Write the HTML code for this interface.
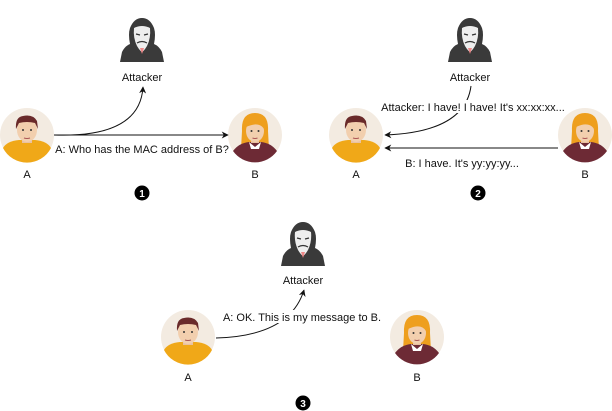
<!DOCTYPE html>
<html><head><meta charset="utf-8"><style>
html,body{margin:0;padding:0;background:#fff;width:612px;height:411px;overflow:hidden}
text{font-family:"Liberation Sans",sans-serif;font-size:11px;fill:#111}
</style></head><body>
<svg width="612" height="411" viewBox="0 0 612 411" xmlns="http://www.w3.org/2000/svg">
<defs>
<marker id="ar" viewBox="0 0 10 10" refX="9" refY="5" markerWidth="7" markerHeight="7" orient="auto-start-reverse" markerUnits="userSpaceOnUse"><path d="M0,0 L10,5 L0,10 L3,5 z" fill="#111"/></marker>
<g id="hk">
<path d="M-22,22 L-20,12 Q-17,6 -12,4 Q-14,-6 -12,-12 Q-8,-22 0,-22 Q8,-22 12,-12 Q14,-6 12,4 Q17,6 20,12 L22,22 z" fill="#3a3a3a"/>
<path d="M-8,-12 Q0,-16 8,-12 Q9,-2 5,6 Q2,11 0,12 Q-2,11 -5,6 Q-9,-2 -8,-12 z" fill="#eee"/>
<path d="M-6,-6 L-2,-5 M6,-6 L2,-5" stroke="#333" stroke-width="1.2"/>
<path d="M-5,3 Q0,0 5,3" stroke="#333" stroke-width="1.2" fill="none"/>
<path d="M-2,8 L0,14 L2,8 z" fill="#e88"/>
</g>
<g id="ma">
<circle r="27" fill="#f3ebe1"/>
<path d="M-24,13 Q-20,6 -8,5 L8,5 Q20,6 24,13 A27,27 0 0 1 -24,13 z" fill="#f0a818"/>
<rect x="-5" y="0" width="10" height="8" fill="#e9c1a0"/>
<ellipse cx="0" cy="-5" rx="10" ry="12" fill="#f2cfae"/>
<path d="M-11,-6 Q-12,-18 -4,-19 Q6,-21 10,-14 L11,-6 L8,-12 Q0,-14 -8,-12 z" fill="#6a2a2a"/>
<circle cx="-4" cy="-5" r="1" fill="#333"/><circle cx="4" cy="-5" r="1" fill="#333"/>
<path d="M-3,3 Q0,4 3,3" stroke="#a55" fill="none"/>
</g>
<g id="fe">
<circle r="27" fill="#f3ebe1"/>
<path d="M-13,-4 Q-14,-22 0,-22 Q14,-22 13,-4 L14,14 L-14,14 z" fill="#ee9f1e"/>
<path d="M-22,16 Q-16,8 -6,7 L6,7 Q16,8 22,16 A27,27 0 0 1 -22,16 z" fill="#6d2a35"/>
<path d="M-6,7 L0,12 L6,7 L4,14 L-4,14 z" fill="#fff"/>
<rect x="-4" y="0" width="8" height="8" fill="#e9c1a0"/>
<ellipse cx="0" cy="-4" rx="9" ry="11" fill="#f2cfae"/>
<path d="M-9,-8 Q-6,-18 6,-15 Q10,-12 9,-6 Q4,-14 -9,-8 z" fill="#ee9f1e"/>
<circle cx="-3.5" cy="-4" r="1" fill="#333"/><circle cx="3.5" cy="-4" r="1" fill="#333"/>
<path d="M-2.5,3 Q0,4 2.5,3" stroke="#a55" fill="none"/>
</g>
</defs>

<!-- Panel 1 -->
<use href="#hk" x="142" y="40"/>
<text x="142" y="81" text-anchor="middle">Attacker</text>
<use href="#ma" x="27" y="135"/>
<use href="#fe" x="255" y="135"/>
<text x="27" y="178" text-anchor="middle">A</text>
<text x="255" y="178" text-anchor="middle">B</text>
<path d="M54,135 L228,135" stroke="#111" fill="none" marker-end="url(#ar)"/>
<path d="M54,135 Q140,138 143,87" stroke="#111" fill="none" marker-end="url(#ar)"/>
<text x="142" y="153" text-anchor="middle">A: Who has the MAC address of B?</text>
<circle cx="142" cy="193" r="7.5" fill="#000"/>
<text x="142" y="197" text-anchor="middle" style="fill:#fff;font-weight:bold;font-size:10px">1</text>

<!-- Panel 2 -->
<use href="#hk" x="470" y="40"/>
<text x="470" y="81" text-anchor="middle">Attacker</text>
<use href="#ma" x="356" y="135"/>
<use href="#fe" x="585" y="135"/>
<text x="356" y="178" text-anchor="middle">A</text>
<text x="585" y="178" text-anchor="middle">B</text>
<path d="M558,148 L385,148" stroke="#111" fill="none" marker-end="url(#ar)"/>
<path d="M471,86 Q465,132 385,135" stroke="#111" fill="none" marker-end="url(#ar)"/>
<rect x="382" y="100" width="186" height="13" fill="#fff"/>
<text x="473" y="111" text-anchor="middle">Attacker: I have! I have! It's xx:xx:xx...</text>
<text x="462" y="167" text-anchor="middle">B: I have. It's yy:yy:yy...</text>
<circle cx="478" cy="193" r="7.5" fill="#000"/>
<text x="478" y="197" text-anchor="middle" style="fill:#fff;font-weight:bold;font-size:10px">2</text>

<!-- Panel 3 -->
<use href="#hk" x="303" y="244"/>
<text x="303" y="284" text-anchor="middle">Attacker</text>
<use href="#ma" x="188" y="337"/>
<use href="#fe" x="417" y="337"/>
<text x="188" y="381" text-anchor="middle">A</text>
<text x="417" y="381" text-anchor="middle">B</text>
<path d="M216,338 Q290,336 304,290" stroke="#111" fill="none" marker-end="url(#ar)"/>
<rect x="222" y="310" width="162" height="13" fill="#fff"/>
<text x="302" y="321" text-anchor="middle">A: OK. This is my message to B.</text>
<circle cx="303" cy="403" r="7.5" fill="#000"/>
<text x="303" y="407" text-anchor="middle" style="fill:#fff;font-weight:bold;font-size:10px">3</text>
</svg>
</body></html>
